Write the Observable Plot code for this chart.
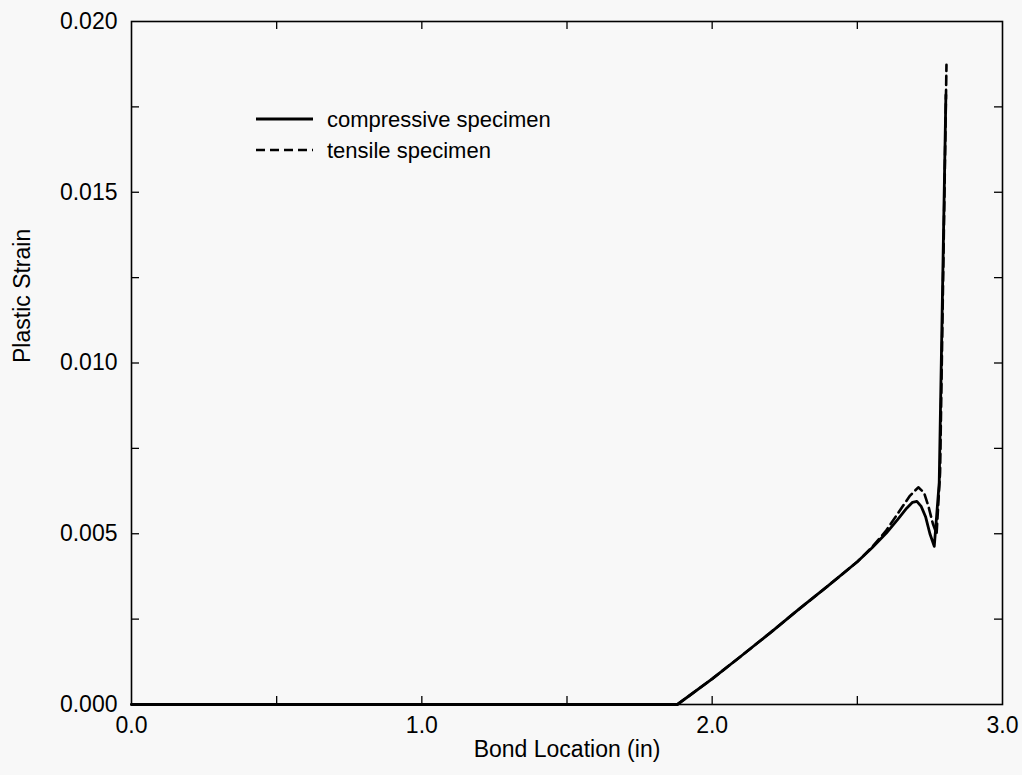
<!DOCTYPE html>
<html>
<head>
<meta charset="utf-8">
<script src="https://cdn.jsdelivr.net/npm/d3@7"></script>
<script src="https://cdn.jsdelivr.net/npm/@observablehq/plot@0.6"></script>
<style>
  html, body { margin: 0; padding: 0; background: #f8f8f8; }
  #wrap { position: relative; width: 1022px; height: 775px; }
  #legend { position: absolute; left: 0; top: 0; }
  svg { font-family: "Liberation Sans", Arial, sans-serif; }
</style>
</head>
<body>
<div id="wrap"></div>
<script>
// ---- data ----
const compressiveX = [0, 0.5, 1.0, 1.5, 1.88, 2.0, 2.1, 2.2, 2.3, 2.4, 2.5, 2.55, 2.6, 2.64, 2.67, 2.69, 2.705, 2.72, 2.735, 2.75, 2.765, 2.782, 2.805];
const compressiveY = [0, 0, 0, 0, 0, 0.00075, 0.00142, 0.0021, 0.0028, 0.00348, 0.00418, 0.00458, 0.00502, 0.00543, 0.00575, 0.00592, 0.00595, 0.0058, 0.0055, 0.0050, 0.00463, 0.0065, 0.01785];
const tensileX = [0, 0.5, 1.0, 1.5, 1.88, 2.0, 2.1, 2.2, 2.3, 2.4, 2.5, 2.55, 2.6, 2.64, 2.68, 2.71, 2.73, 2.745, 2.76, 2.773, 2.785, 2.807];
const tensileY = [0, 0, 0, 0, 0, 0.00075, 0.00142, 0.0021, 0.0028, 0.00348, 0.00418, 0.0046, 0.0051, 0.0056, 0.0061, 0.00636, 0.0062, 0.0058, 0.0053, 0.0050, 0.0068, 0.01873];
const xTickValues = [0, 1, 2, 3];
const xTickMarks = [0.5, 1, 1.5, 2, 2.5];
const yTickValues = [0, 0.005, 0.010, 0.015, 0.020];
const yTickMarks = [0.0025, 0.005, 0.0075, 0.010, 0.0125, 0.015, 0.0175];
const seriesNames = ["compressive specimen", "tensile specimen"];
const xLabel = "Bond Location (in)";
const yLabel = "Plastic Strain";

const compressive = compressiveX.map((x, i) => ({x, y: compressiveY[i]}));
const tensile = tensileX.map((x, i) => ({x, y: tensileY[i]}));

// ---- layout ----
const W = 1022, H = 775;
const mTop = 21, mRight = 20, mBottom = 71, mLeft = 131;
const plotW = W - mLeft - mRight, plotH = H - mTop - mBottom;
const tl = 8;
const font = "Liberation Sans, Arial, sans-serif";

const chart = Plot.plot({
  width: W, height: H,
  marginTop: mTop, marginRight: mRight, marginBottom: mBottom, marginLeft: mLeft,
  style: {background: "transparent", fontFamily: font, color: "black"},
  x: {domain: [0, 3]},
  y: {domain: [0, 0.02]},
  marks: [
    Plot.axisX({ticks: xTickValues, tickFormat: d3.format(".1f"), tickSize: 0, tickPadding: 12, fontSize: 23, label: null}),
    Plot.axisY({ticks: yTickValues, tickFormat: d3.format(".3f"), tickSize: 0, tickPadding: 14, fontSize: 23, label: null}),
    // inward tick marks on all four sides
    Plot.tickX(xTickMarks, {x: d => d, insetTop: plotH - tl, stroke: "black", strokeWidth: 1.3}),
    Plot.tickX(xTickMarks, {x: d => d, insetBottom: plotH - tl, stroke: "black", strokeWidth: 1.3}),
    Plot.tickY(yTickMarks, {y: d => d, insetRight: plotW - tl, stroke: "black", strokeWidth: 1.3}),
    Plot.tickY(yTickMarks, {y: d => d, insetLeft: plotW - tl, stroke: "black", strokeWidth: 1.3}),
    Plot.frame({stroke: "black", strokeWidth: 1.6}),
    Plot.line(compressive, {x: "x", y: "y", stroke: "black", strokeWidth: 2.8, strokeLinejoin: "round"}),
    Plot.line(tensile, {x: "x", y: "y", stroke: "black", strokeWidth: 2.6, strokeDasharray: "9,5", strokeLinejoin: "round"}),
    Plot.text([xLabel], {frameAnchor: "bottom", text: d => d, dy: 52, fontSize: 23, fill: "black"}),
    Plot.text([yLabel], {frameAnchor: "left", text: d => d, dx: -109, rotate: -90, fontSize: 23, fill: "black"})
  ]
});
document.getElementById("wrap").appendChild(chart);

// ---- legend overlay ----
const leg = d3.select("#wrap").append("svg")
  .attr("id", "legend").attr("width", 560).attr("height", 200);
const legItems = [
  {name: seriesNames[0], dash: null, y: 119},
  {name: seriesNames[1], dash: "9,5", y: 150}
];
legItems.forEach(it => {
  leg.append("line").attr("x1", 256).attr("x2", 313).attr("y1", it.y).attr("y2", it.y)
    .attr("stroke", "black").attr("stroke-width", it.dash ? 2.6 : 3)
    .attr("stroke-dasharray", it.dash);
  leg.append("text").attr("x", 327).attr("y", it.y + 8)
    .attr("font-size", 22).attr("font-family", font).attr("fill", "black").text(it.name);
});
</script>
</body>
</html>
